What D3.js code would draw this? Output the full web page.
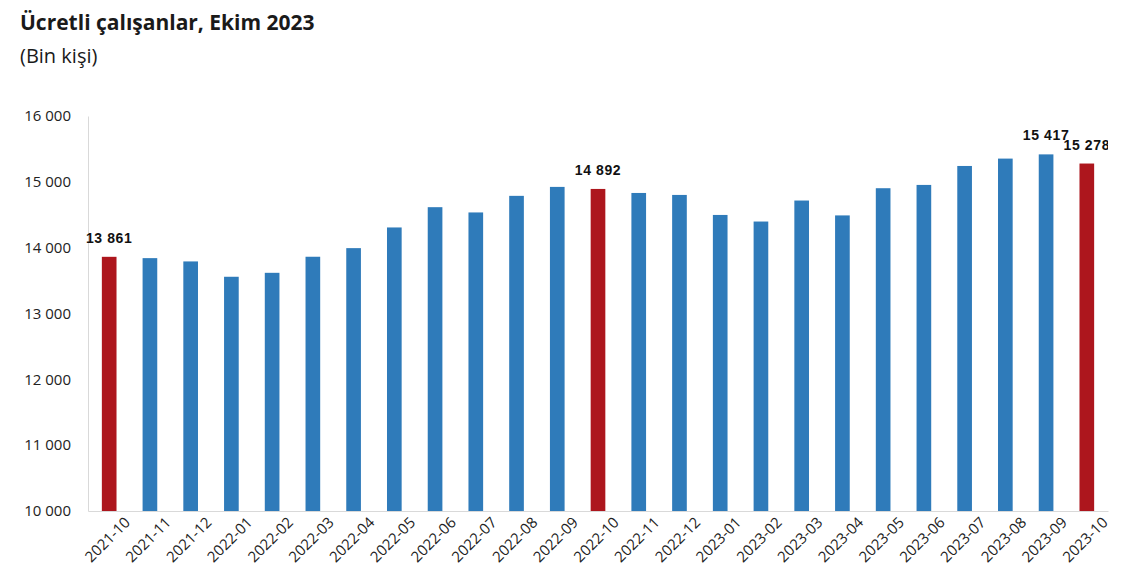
<!DOCTYPE html>
<html>
<head>
<meta charset="utf-8">
<script src="https://cdn.jsdelivr.net/npm/d3@7"></script>
<style>
  body { margin: 0; background: #fff; }
  svg { display: block; }
</style>
</head>
<body>
<div id="container"></div>
<script>
/* CONSTANTS AND GLOBALS */
const width = 1140;
const height = 570;
const margin = { top: 116, right: 32, bottom: 59, left: 88 };

/* DATA */
const months = ["2021-10", "2021-11", "2021-12", "2022-01", "2022-02", "2022-03", "2022-04",
  "2022-05", "2022-06", "2022-07", "2022-08", "2022-09", "2022-10", "2022-11", "2022-12",
  "2023-01", "2023-02", "2023-03", "2023-04", "2023-05", "2023-06", "2023-07", "2023-08",
  "2023-09", "2023-10"];
const employees = [13861, 13841, 13791, 13558, 13618, 13862, 13993, 14307, 14615, 14535,
  14787, 14923, 14892, 14831, 14801, 14497, 14397, 14716, 14490, 14903, 14953, 15241,
  15353, 15417, 15278];
const highlighted = ["2021-10", "2022-10", "2023-10"];
const labelled = ["2021-10", "2022-10", "2023-09", "2023-10"];
const yTicks = [10000, 11000, 12000, 13000, 14000, 15000, 16000];

const data = months.map((m, i) => ({ month: m, value: employees[i] }));
const fmt = v => d3.format(",")(v).replace(/,/g, " ");

/* SCALES */
const xScale = d3.scaleBand()
  .domain(months)
  .range([margin.left, width - margin.right])
  .paddingInner(0.64)
  .paddingOuter(0.34);

const yScale = d3.scaleLinear()
  .domain([10000, 16000])
  .range([height - margin.bottom, margin.top]);

/* SVG */
const svg = d3.select("#container")
  .append("svg")
  .attr("width", width)
  .attr("height", height);

// title
svg.append("text")
  .attr("x", 20)
  .attr("y", 30)
  .attr("font-family", "'Open Sans', sans-serif")
  .attr("font-weight", "bold")
  .attr("font-size", 21)
  .attr("fill", "#1a1a1a")
  .text("Ücretli çalışanlar, Ekim 2023");

svg.append("text")
  .attr("x", 20)
  .attr("y", 63)
  .attr("font-family", "'Open Sans', sans-serif")
  .attr("font-size", 20)
  .attr("fill", "#1a1a1a")
  .text("(Bin kişi)");

// y axis
const yAxis = d3.axisLeft(yScale)
  .tickValues(yTicks)
  .tickFormat(fmt)
  .tickSize(0)
  .tickPadding(17);

const yg = svg.append("g")
  .attr("transform", `translate(${margin.left},0)`)
  .call(yAxis);
yg.select(".domain").attr("stroke", "#d9d9d9");
yg.selectAll("text")
  .attr("font-family", "'Open Sans', sans-serif")
  .attr("font-size", 15)
  .attr("fill", "#222");

// x axis
const xAxis = d3.axisBottom(xScale).tickSize(0).tickPadding(10);
const xg = svg.append("g")
  .attr("transform", `translate(0,${height - margin.bottom})`)
  .call(xAxis);
xg.select(".domain").attr("stroke", "#d9d9d9");
xg.selectAll("text")
  .attr("font-family", "'Open Sans', sans-serif")
  .attr("font-size", 15)
  .attr("fill", "#222")
  .attr("text-anchor", "end")
  .attr("dx", "0.45em")
  .attr("dy", "0.95em")
  .attr("transform", "rotate(-45)");

// bars
svg.selectAll("rect.bar")
  .data(data)
  .join("rect")
  .attr("class", "bar")
  .attr("x", d => xScale(d.month))
  .attr("width", xScale.bandwidth())
  .attr("y", d => yScale(d.value))
  .attr("height", d => yScale(10000) - yScale(d.value))
  .attr("fill", d => highlighted.includes(d.month) ? "#ad161d" : "#2f7bba");

// value labels, clipped at plot edge
svg.append("clipPath")
  .attr("id", "plotclip")
  .append("rect")
  .attr("x", 0)
  .attr("y", 0)
  .attr("width", width - margin.right)
  .attr("height", height);

svg.append("g")
  .attr("clip-path", "url(#plotclip)")
  .selectAll("text")
  .data(data.filter(d => labelled.includes(d.month)))
  .join("text")
  .attr("x", d => xScale(d.month) + xScale.bandwidth() / 2)
  .attr("y", d => yScale(d.value) - 14)
  .attr("text-anchor", "middle")
  .attr("font-family", "'Liberation Sans', Arial, sans-serif")
  .attr("font-weight", "bold")
  .attr("font-size", 14)
  .attr("letter-spacing", 0.6)
  .attr("fill", "#111")
  .text(d => fmt(d.value));
</script>
</body>
</html>
